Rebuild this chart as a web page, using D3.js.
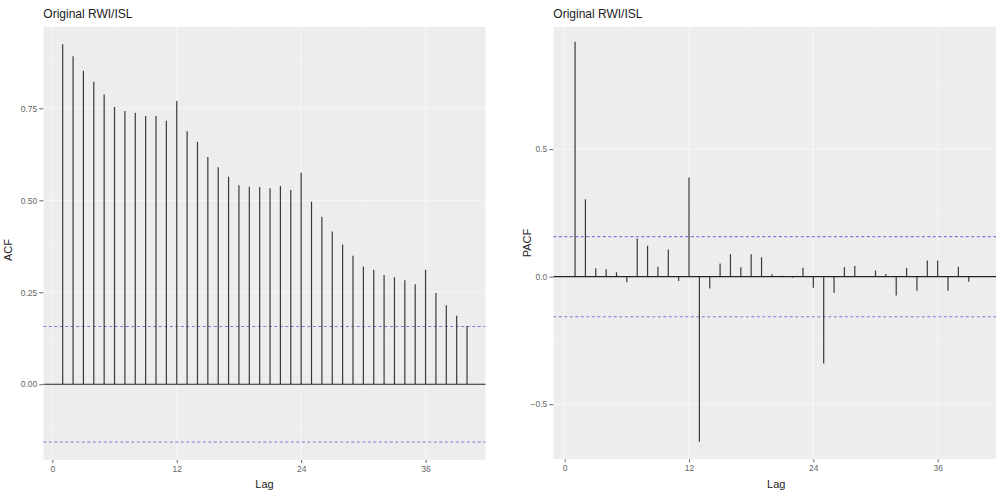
<!DOCTYPE html>
<html><head><meta charset="utf-8">
<script src="https://cdn.jsdelivr.net/npm/d3@7"></script>
<style>body{margin:0;background:#fff}svg{display:block}text{font-family:"Liberation Sans",Arial,sans-serif}</style>
</head><body>
<svg id="c" width="996" height="494"></svg>
<script>
const lags = [1,2,3,4,5,6,7,8,9,10,11,12,13,14,15,16,17,18,19,20,21,22,23,24,25,26,27,28,29,30,31,32,33,34,35,36,37,38,39,40];
const acfValues = [0.924,0.892,0.852,0.822,0.788,0.754,0.743,0.738,0.729,0.729,0.716,0.770,0.688,0.659,0.618,0.590,0.564,0.541,0.537,0.536,0.533,0.539,0.528,0.575,0.496,0.455,0.415,0.380,0.349,0.320,0.311,0.297,0.291,0.283,0.272,0.311,0.248,0.215,0.186,0.158];
const pacfValues = [0.921,0.304,0.033,0.029,0.017,-0.022,0.150,0.121,0.039,0.107,-0.017,0.389,-0.647,-0.046,0.052,0.088,0.037,0.088,0.076,0.009,0.004,-0.003,0.035,-0.043,-0.340,-0.063,0.037,0.042,0.003,0.024,0.010,-0.074,0.034,-0.055,0.063,0.063,-0.055,0.039,-0.020,0.002];
const ciBound = 0.157;
const xTicks = [0,12,24,36];
const xMinor = [6,18,30];
const acfTicks = [0,0.25,0.5,0.75];
const acfMinor = [-0.125,0.125,0.375,0.625,0.875];
const pacfTicks = [-0.5,0,0.5];
const pacfMinor = [-0.25,0.25,0.75];
const titles = ["Original RWI/ISL","Original RWI/ISL"];
const yTitles = ["ACF","PACF"];
const xTitle = "Lag";

const svg = d3.select("#c");

function panel(cfg){
  const {x, y, values, yTicks, yMinor, fmt, title, yTitle, yTitleX, yTitleY} = cfg;
  const g = svg.append("g");
  const [x0,x1] = x.range(); const [y0,y1] = y.range();
  const clipId = "clip"+Math.round(x0);
  svg.append("clipPath").attr("id",clipId).append("rect")
    .attr("x",x0).attr("y",y1).attr("width",x1-x0).attr("height",y0-y1);
  const p = g.append("g").attr("clip-path",`url(#${clipId})`);
  p.append("rect").attr("x",x0).attr("y",y1).attr("width",x1-x0).attr("height",y0-y1).attr("fill","#ededed");
  // minor grid
  p.selectAll(".gmx").data(xMinor).join("line")
    .attr("x1",d=>x(d)).attr("x2",d=>x(d)).attr("y1",y1).attr("y2",y0)
    .attr("stroke","#f2f2f2").attr("stroke-width",0.6);
  p.selectAll(".gmy").data(yMinor).join("line")
    .attr("y1",d=>y(d)).attr("y2",d=>y(d)).attr("x1",x0).attr("x2",x1)
    .attr("stroke","#f2f2f2").attr("stroke-width",0.6);
  p.selectAll(".gx").data(xTicks).join("line")
    .attr("x1",d=>x(d)).attr("x2",d=>x(d)).attr("y1",y1).attr("y2",y0)
    .attr("stroke","#f5f5f5").attr("stroke-width",1.2);
  p.selectAll(".gy").data(yTicks).join("line")
    .attr("y1",d=>y(d)).attr("y2",d=>y(d)).attr("x1",x0).attr("x2",x1)
    .attr("stroke","#f5f5f5").attr("stroke-width",1.2);
  // confidence lines
  p.selectAll(".ci").data([ciBound,-ciBound]).join("line")
    .attr("x1",x0).attr("x2",x1).attr("y1",d=>y(d)).attr("y2",d=>y(d))
    .attr("stroke","#7b7bdc").attr("stroke-width",1.1).attr("stroke-dasharray","3,2.5");
  // segments
  p.selectAll(".seg").data(lags.map((l,i)=>({l,v:values[i]}))).join("line")
    .attr("x1",d=>x(d.l)).attr("x2",d=>x(d.l)).attr("y1",y(0)).attr("y2",d=>y(d.v))
    .attr("stroke","#3a3a3a").attr("stroke-width",1.2);
  // zero line
  p.append("line").attr("x1",x0).attr("x2",x1).attr("y1",y(0)).attr("y2",y(0))
    .attr("stroke","#222").attr("stroke-width",1.2);
  // axes
  const ax = d3.axisBottom(x).tickValues(xTicks).tickSize(3).tickPadding(3).tickFormat(d3.format("d"));
  const ga = g.append("g").attr("transform",`translate(0,${y0})`).call(ax);
  const ay = d3.axisLeft(y).tickValues(yTicks).tickSize(4).tickPadding(2).tickFormat(fmt);
  const gy = g.append("g").attr("transform",`translate(${x0},0)`).call(ay);
  [ga,gy].forEach(a=>{
    a.select(".domain").remove();
    a.selectAll(".tick line").attr("stroke","#666");
    a.selectAll(".tick text").attr("fill","#666").style("font-size","8.5px").style("font-family","'Liberation Sans',Arial,sans-serif");
  });
  g.append("text").attr("x",x0).attr("y",18).text(title)
    .style("font-size","12px").attr("fill","#222");
  g.append("text").attr("x",(x0+x1)/2).attr("y",488).attr("text-anchor","middle").text(xTitle)
    .style("font-size","11px").attr("fill","#222");
  g.append("text").attr("transform",`translate(${yTitleX},${yTitleY}) rotate(-90)`).attr("text-anchor","middle").text(yTitle)
    .style("font-size","11px").attr("fill","#222");
}

panel({
  x: d3.scaleLinear().domain([-0.87,41.8]).range([43.3,485.7]),
  y: d3.scaleLinear().domain([-0.206,0.972]).range([460,26.7]),
  values: acfValues, yTicks: acfTicks, yMinor: acfMinor, fmt: d3.format(".2f"),
  title: titles[0], yTitle: yTitles[0], yTitleX: 12, yTitleY: 250
});
panel({
  x: d3.scaleLinear().domain([-1.1,41.95]).range([553.3,999.3]),
  y: d3.scaleLinear().domain([-0.716,0.98]).range([459.3,26.7]),
  values: pacfValues, yTicks: pacfTicks, yMinor: pacfMinor, fmt: d3.format(".1f"),
  title: titles[1], yTitle: yTitles[1], yTitleX: 531, yTitleY: 243
});
</script>
</body></html>
